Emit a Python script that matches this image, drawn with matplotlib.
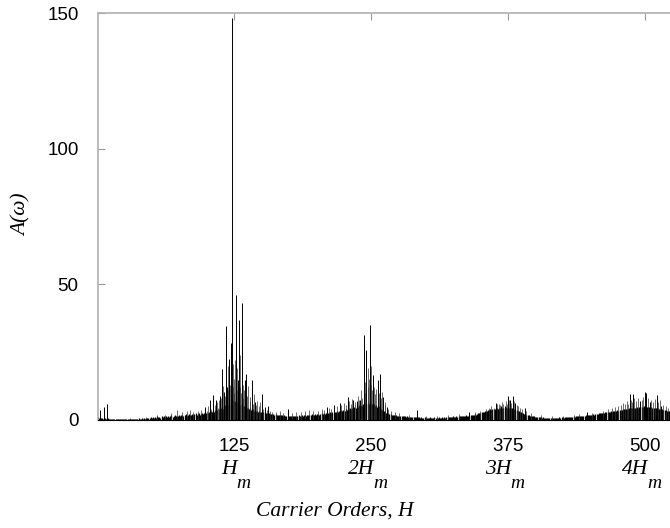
import numpy as np
import matplotlib.pyplot as plt

plt.rcParams['font.family'] = ['Liberation Sans', 'DejaVu Sans']

# background spectrum, one value per carrier order H = 1 .. 523
floor_1 = [1.2, 0.8, 0.5, 0.9, 0.6, 0.4, 0.7, 0.5, 0.3, 0.6,
           0.4, 0.5, 0.3, 0.4, 0.2, 0.3, 0.4, 0.2, 0.3, 0.2,
           0.3, 0.2, 0.2, 0.3, 0.2, 0.3, 0.4, 0.2, 0.3, 0.3,
           0.4, 0.3, 0.5, 0.3, 0.4, 0.5, 0.3, 0.6, 0.4, 0.5,
           0.6, 0.4, 0.7, 0.5, 0.8, 0.6, 0.9, 0.7, 1.0, 0.8]
floor_2 = [1.1, 0.8, 1.2, 0.9, 1.3, 1.0, 1.2, 0.9, 1.4, 1.1,
           1.3, 1.0, 1.5, 1.2, 1.6, 1.1, 1.4, 1.7, 1.2, 1.5,
           1.8, 1.3, 1.6, 1.4, 1.9, 1.5, 1.7, 2.0, 1.4, 1.8,
           2.1, 1.6, 1.9, 2.2, 1.7, 2.0, 2.3, 1.8, 2.1, 2.4,
           1.9, 2.2, 2.5, 2.0, 2.3, 2.6, 2.1, 2.4, 2.8, 2.5]
floor_3 = [2.7, 3.0, 2.6, 3.2, 2.9, 3.4, 3.1, 3.6, 3.3, 3.8,
           4.0, 3.6, 4.3, 4.8, 4.2, 5.0, 5.5, 4.9, 6.0, 5.6,
           6.5, 7.2, 8.0, 7.5, 6.8, 7.0, 6.2, 6.6, 5.8, 6.1,
           5.4, 5.9, 5.0, 5.3, 4.7, 4.9, 4.4, 4.6, 4.1, 4.3,
           3.8, 4.0, 3.5, 3.7, 3.3, 3.4, 3.1, 3.2, 2.9, 3.0]
floor_4 = [2.8, 2.9, 2.6, 2.7, 2.5, 2.4, 2.5, 2.2, 2.3, 2.1,
           2.2, 2.0, 2.1, 1.9, 2.0, 1.8, 1.9, 1.7, 1.8, 1.6,
           1.7, 1.5, 1.6, 1.4, 1.6, 1.5, 1.4, 1.6, 1.5, 1.4,
           1.5, 1.6, 1.4, 1.7, 1.5, 1.6, 1.8, 1.5, 1.7, 1.9,
           1.6, 1.8, 2.0, 1.7, 1.9, 2.1, 1.8, 2.0, 2.2, 1.9]
floor_5 = [2.1, 2.3, 2.0, 2.2, 2.4, 2.1, 2.5, 2.3, 2.6, 2.4,
           2.7, 2.5, 2.8, 2.6, 3.0, 2.7, 3.1, 2.9, 3.3, 3.0,
           3.4, 3.2, 3.6, 3.3, 3.8, 3.5, 4.0, 3.7, 4.2, 4.0,
           4.4, 4.1, 4.6, 4.3, 4.9, 4.5, 5.1, 4.8, 5.4, 5.0,
           5.6, 5.3, 6.0, 5.5, 6.2, 5.8, 6.4, 6.0, 6.8, 6.3]
floor_6 = [6.0, 5.6, 5.8, 5.2, 5.4, 4.8, 5.0, 4.4, 4.2, 3.8,
           3.5, 3.2, 3.0, 2.7, 2.6, 2.4, 2.3, 2.1, 2.0, 1.9,
           1.8, 1.7, 1.7, 1.6, 1.5, 1.6, 1.4, 1.5, 1.3, 1.4,
           1.3, 1.2, 1.3, 1.1, 1.2, 1.0, 1.1, 1.2, 1.0, 1.1,
           1.0, 0.9, 1.1, 1.0, 0.9, 1.0, 0.8, 0.9, 1.0, 0.8]
floor_7 = [0.9, 0.8, 0.9, 1.0, 0.8, 0.9, 0.8, 1.0, 0.9, 0.8,
           0.9, 1.0, 0.8, 0.9, 1.0, 0.9, 1.1, 0.9, 1.0, 1.1,
           1.0, 1.2, 1.0, 1.1, 1.3, 1.1, 1.2, 1.4, 1.2, 1.3,
           1.5, 1.3, 1.4, 1.6, 1.4, 1.5, 1.7, 1.5, 1.6, 1.8,
           1.7, 1.9, 1.8, 2.0, 2.2, 2.0, 2.3, 2.5, 2.4, 2.7]
floor_8 = [2.9, 3.1, 3.0, 3.3, 3.5, 3.4, 3.7, 3.6, 3.9, 3.8,
           4.0, 3.9, 4.2, 4.1, 4.3, 4.2, 4.4, 4.3, 4.5, 4.4,
           4.6, 4.4, 4.7, 4.5, 4.8, 4.5, 4.6, 4.3, 4.4, 4.1,
           4.0, 3.8, 3.6, 3.4, 3.2, 3.0, 2.8, 2.6, 2.4, 2.2,
           2.1, 1.9, 1.8, 1.7, 1.6, 1.5, 1.4, 1.4, 1.3, 1.2]
floor_9 = [1.2, 1.1, 1.1, 1.0, 1.0, 0.9, 1.0, 0.9, 0.9, 0.8,
           0.9, 0.8, 0.9, 0.8, 0.9, 0.8, 0.9, 0.9, 0.8, 0.9,
           0.9, 1.0, 0.9, 1.0, 1.0, 0.9, 1.1, 1.0, 1.1, 1.0,
           1.1, 1.2, 1.1, 1.2, 1.3, 1.2, 1.3, 1.4, 1.3, 1.4,
           1.5, 1.4, 1.5, 1.6, 1.5, 1.7, 1.6, 1.8, 1.7, 1.9]
floor_10 = [1.8, 2.0, 2.1, 2.0, 2.2, 2.3, 2.2, 2.4, 2.5, 2.4,
            2.6, 2.7, 2.6, 2.8, 2.9, 3.0, 2.9, 3.1, 3.2, 3.1,
            3.3, 3.4, 3.3, 3.5, 3.6, 3.5, 3.7, 3.8, 3.7, 3.9,
            4.0, 3.9, 4.1, 4.2, 4.1, 4.3, 4.4, 4.3, 4.5, 4.4,
            4.6, 4.5, 4.7, 4.6, 4.8, 4.7, 4.9, 4.8, 5.0, 4.9,
            4.8, 4.9, 4.7, 4.8, 4.6, 4.7, 4.5, 4.6, 4.4, 4.5,
            4.3, 4.4, 4.2, 4.1, 4.0, 3.9, 3.8, 3.7, 3.6, 3.5,
            3.4, 3.3, 3.2]

# the taller individual lines
peak_h = [3, 6.4, 9.4,
          98.5, 103, 106, 108.5, 112, 114, 116, 117.7, 119, 121, 122.5, 123.5,
          127, 128.7, 129.6, 132.3, 135, 136, 141.4, 144, 150.5, 153, 156, 174,
          210, 216.5, 221.7, 228.7, 234, 237, 240, 243.6, 246, 249, 252,
          256.7, 258.5, 261.2, 264.3, 291.7, 339.7,
          363.8, 369.2, 372.3, 375.3, 377.4, 379.8, 381.4, 390.5, 447.4,
          486.3, 489.3, 495.4, 500, 501.5, 504.6, 510.7, 515.2]
peak_a = [3.6, 4.8, 5.9,
          4.8, 7.4, 9.2, 7.4, 9.0, 18.8, 10.5, 34.6, 12.0, 22.5, 28.3, 148.0,
          46.0, 14.7, 37.0, 43.0, 14.7, 17.0, 14.7, 6.6, 9.6, 4.9, 5.2, 4.0,
          4.7, 5.5, 6.1, 8.5, 7.4, 7.0, 7.4, 31.3, 25.8, 35.0, 16.6,
          14.7, 17.0, 8.6, 4.9, 3.7, 3.0,
          6.3, 5.2, 5.0, 8.8, 7.4, 9.0, 6.3, 4.3, 2.8,
          9.6, 9.6, 7.0, 10.3, 10.0, 6.6, 9.3, 5.0]

# smaller sideband lines (the hairy part of the clusters)
hair_h = [30, 45, 55, 62, 68, 73, 78, 82, 85, 88, 92, 95,
          100.5, 101.5, 104.5, 105.5, 107.5, 109.5, 110.5, 111.5, 113, 115,
          116.5, 118, 118.5, 119.5, 120, 120.5, 121.5, 122, 124, 124.5, 125,
          125.5, 126, 126.5, 127.5, 128, 129, 130, 130.5, 131, 131.5, 133,
          133.5, 134, 137, 138, 139.5, 140, 142.5, 143, 145.5, 146, 148, 149,
          151.5, 155, 158, 160, 163, 167, 170, 178, 182, 186, 190, 194, 197,
          202, 205, 207.5, 212, 214, 219, 223, 225.5, 227, 230, 231.5, 233,
          235.5, 238, 239, 241, 242, 244.5, 245, 247, 247.5, 248, 250, 250.5,
          251, 253, 254, 255, 257, 259.5, 260, 262.5, 263, 266, 268, 272, 276,
          285, 300, 310, 320, 330,
          345, 350, 355, 358, 360, 362, 365, 366.5, 368, 370, 371, 373.5, 374,
          376, 378, 380.5, 383, 384.5, 386, 388, 392, 396,
          405, 415, 425, 435, 440, 452,
          462, 466, 470, 473, 476, 478, 480, 482, 484, 485, 487.5, 488, 490.5,
          492, 493.5, 497, 498.5, 503, 506, 507.5, 509, 512, 513.5, 517, 519, 521]
hair_a = [0.8, 1.2, 1.8, 2.0, 2.5, 3.7, 2.8, 3.5, 3.8, 3.0, 3.2, 3.6,
          3.5, 5.0, 4.2, 6.0, 5.5, 6.8, 4.5, 7.5, 8.0, 12.5,
          9.0, 15.5, 8.0, 20.0, 11.0, 16.0, 13.0, 18.0, 12.0, 20.5, 15.0,
          10.0, 22.0, 13.0, 19.0, 11.0, 9.5, 16.0, 12.0, 24.0, 10.0, 13.0,
          8.0, 11.0, 9.0, 12.5, 7.0, 8.5, 6.0, 9.5, 5.5, 7.0, 5.0, 6.5,
          4.0, 3.8, 3.5, 3.0, 2.8, 3.2, 2.5, 2.4, 2.8, 3.0, 3.3, 3.6, 3.2,
          3.5, 4.0, 3.8, 4.5, 4.2, 5.0, 5.4, 6.2, 5.6, 7.0, 6.0, 7.8,
          6.5, 9.0, 7.2, 11.0, 8.0, 14.0, 10.0, 19.0, 12.0, 15.0, 13.0, 20.0,
          11.0, 12.0, 9.5, 11.5, 10.0, 8.0, 10.5, 6.5, 5.5, 4.0, 3.5, 3.0, 2.6,
          2.0, 1.6, 1.5, 1.8, 2.2,
          2.8, 3.2, 4.0, 4.6, 5.0, 4.5, 5.8, 6.0, 5.4, 6.5, 5.8, 7.0, 6.0,
          7.5, 6.2, 7.0, 5.5, 5.0, 4.5, 4.0, 3.2, 2.6,
          1.8, 1.5, 1.6, 2.0, 2.2, 2.5,
          3.5, 4.0, 4.4, 4.8, 5.0, 5.5, 6.2, 5.8, 7.0, 6.0, 7.5, 6.5, 8.0,
          7.0, 8.2, 7.5, 8.5, 8.0, 7.2, 6.5, 7.8, 6.8, 7.2, 5.5, 5.0, 4.5]

xticks = [125, 250, 375, 500]
harm_labels = ['H', '2H', '3H', '4H']

floor = floor_1 + floor_2 + floor_3 + floor_4 + floor_5 + floor_6 + floor_7 + floor_8 + floor_9 + floor_10
orders = np.arange(1, len(floor) + 1)

fig = plt.figure(figsize=(6.7, 5.28), dpi=100)
ax = fig.add_axes([98 / 670, 108 / 528, 572 / 670, 407 / 528])

ax.vlines(orders, 0, floor, color='black', lw=0.9)
ax.vlines(hair_h, 0, hair_a, color='#333333', lw=0.5)
ax.vlines(peak_h, 0, peak_a, color='black', lw=0.7)

ax.set_xlim(1, 523)
ax.set_ylim(0, 150)
ax.set_yticks([0, 50, 100, 150])
ax.set_xticks(xticks)
ax.tick_params(direction='in', length=5, color='#999999', labelsize=13.5,
               top=True)
ax.tick_params(axis='x', pad=13)
ax.tick_params(axis='y', pad=14)

for side in ['left', 'top']:
    ax.spines[side].set_color('#b0b0b0')
    ax.spines[side].set_linewidth(1.2)
ax.spines['right'].set_visible(False)
ax.spines['bottom'].set_color('black')

serif = dict(family='Liberation Serif', style='italic')
for x, lab in zip(xticks, harm_labels):
    ax.annotate(lab, xy=(x, 0), xycoords=('data', 'axes fraction'),
                xytext=(3, -50), textcoords='offset pixels',
                ha='right', va='center', fontsize=15.5, **serif)
    ax.annotate('m', xy=(x, 0), xycoords=('data', 'axes fraction'),
                xytext=(2, -64), textcoords='offset pixels',
                ha='left', va='center', fontsize=14, **serif)

fig.text(335 / 670, 1 - 511 / 528, 'Carrier Orders, H', ha='center', va='center',
         fontsize=15.5, **serif)
fig.text(22 / 670, 1 - 215 / 528, 'A(ω)', ha='center', va='center',
         rotation=90, fontsize=15.5, **serif)

fig.savefig('out.png', dpi=100)
